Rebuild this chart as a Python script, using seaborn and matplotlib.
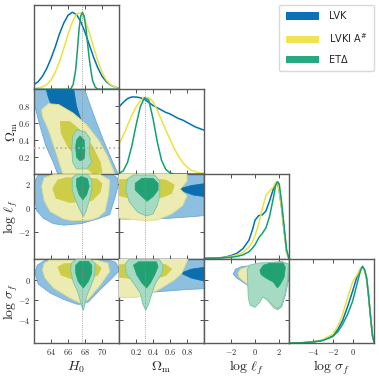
import matplotlib
matplotlib.use('Agg')
from matplotlib import pyplot as plt
from matplotlib.patches import Patch
from matplotlib.ticker import FixedLocator, FuncFormatter
import seaborn as sns

sns.set_style('ticks')
plt.rcParams['font.family'] = ['DejaVu Sans']
plt.rcParams['mathtext.fontset'] = 'cm'

# ---------------------------------------------------------------- axes setup
names = ['H0', 'Om', 'll', 'ls']
axis_labels = [r'$H_0$', r'$\Omega_\mathrm{m}$', r'$\log\,\ell_f$', r'$\log\,\sigma_f$']
limits = [(62.0, 72.0), (0.0, 1.0), (-4.2, 2.8), (-6.4, 2.15)]
ticks = [[64, 66, 68, 70], [0.2, 0.4, 0.6, 0.8], [-2, 0, 2], [-4, -2, 0]]
truth = {'H0': 67.7, 'Om': 0.31}

datasets = ['LVK', r'LVKI A$^\#$', 'ET\u0394']

# ---------------------------------------------------------------- 1D marginals
h0_x = [62.0, 62.5, 63.0, 63.5, 64.0, 64.5, 65.0, 65.5, 66.0, 66.5, 67.0,
        67.5, 68.0, 68.5, 69.0, 69.5, 70.0, 70.5, 71.0, 71.5, 72.0]
h0_lvk = [0.06, 0.10, 0.17, 0.27, 0.40, 0.55, 0.72, 0.86, 0.96, 1.00, 0.97,
          0.88, 0.74, 0.58, 0.42, 0.28, 0.17, 0.10, 0.055, 0.03, 0.015]
h0_lvki = [0.01, 0.02, 0.03, 0.06, 0.12, 0.22, 0.36, 0.53, 0.71, 0.87, 0.98,
           0.99, 0.90, 0.74, 0.55, 0.37, 0.22, 0.12, 0.06, 0.03, 0.01]
h0_eta_x = [62.0, 66.3, 66.6, 66.9, 67.1, 67.3, 67.5, 67.7, 67.9, 68.1, 68.3,
            68.5, 68.7, 68.9, 69.2, 69.5, 72.0]
h0_eta = [0.0, 0.0, 0.06, 0.25, 0.50, 0.78, 0.95, 1.00, 0.95, 0.80, 0.60,
          0.40, 0.24, 0.11, 0.03, 0.0, 0.0]

om_x = [0.0, 0.05, 0.1, 0.15, 0.2, 0.25, 0.3, 0.35, 0.4, 0.45, 0.5,
        0.55, 0.6, 0.65, 0.7, 0.75, 0.8, 0.85, 0.9, 0.95, 1.0]
om_lvk = [0.87, 0.93, 0.98, 1.00, 1.00, 0.99, 0.97, 0.93, 0.89, 0.86, 0.83,
          0.80, 0.78, 0.75, 0.72, 0.70, 0.67, 0.64, 0.61, 0.59, 0.57]
om_lvki = [0.39, 0.50, 0.63, 0.76, 0.87, 0.95, 0.99, 0.99, 0.94, 0.83, 0.70,
           0.57, 0.45, 0.33, 0.23, 0.15, 0.09, 0.05, 0.03, 0.015, 0.01]
om_eta = [0.01, 0.04, 0.15, 0.36, 0.63, 0.87, 0.99, 0.96, 0.72, 0.42, 0.18,
          0.06, 0.015, 0.0, 0.0, 0.0, 0.0, 0.0, 0.0, 0.0, 0.0]

ll_x = [-4.2, -3.0, -2.5, -2.0, -1.5, -1.0, -0.5, -0.2, 0.0, 0.3, 0.6,
        0.9, 1.2, 1.5, 1.7, 1.85, 2.0, 2.2, 2.4, 2.6, 2.8]
ll_lvk = [0.005, 0.01, 0.02, 0.04, 0.07, 0.13, 0.24, 0.38, 0.50, 0.56, 0.57,
          0.62, 0.75, 0.90, 0.98, 1.00, 0.88, 0.65, 0.36, 0.09, 0.0]
ll_lvki = [0.005, 0.01, 0.015, 0.03, 0.05, 0.08, 0.15, 0.22, 0.30, 0.45, 0.65,
           0.82, 0.88, 0.93, 0.99, 1.00, 0.88, 0.65, 0.36, 0.09, 0.0]
ll_eta = [0.005, 0.01, 0.015, 0.02, 0.03, 0.05, 0.09, 0.14, 0.18, 0.27, 0.33,
          0.40, 0.55, 0.78, 0.95, 1.00, 0.97, 0.72, 0.42, 0.12, 0.0]

ls_x = [-6.4, -5.0, -4.0, -3.0, -2.0, -1.5, -1.0, -0.5, 0.0, 0.4, 0.8,
        1.0, 1.2, 1.4, 1.6, 1.8, 2.0, 2.15]
ls_lvk = [0.005, 0.01, 0.02, 0.04, 0.10, 0.18, 0.30, 0.48, 0.68, 0.85, 0.97,
          1.00, 0.95, 0.85, 0.62, 0.35, 0.10, 0.02]
ls_lvki = [0.005, 0.01, 0.02, 0.05, 0.12, 0.22, 0.38, 0.60, 0.80, 0.88, 0.97,
           1.00, 0.95, 0.85, 0.62, 0.35, 0.10, 0.02]
ls_eta = [0.005, 0.01, 0.02, 0.04, 0.09, 0.15, 0.25, 0.38, 0.55, 0.75, 0.95,
          1.00, 0.96, 0.86, 0.63, 0.35, 0.10, 0.02]

# ---------------------------------------------------------------- 2D credible regions (95%, 68%)
lvk_h0_om_95 = [(61.8, 1.05), (62.1, 0.80), (62.7, 0.57), (63.4, 0.33), (64.2, 0.155),
                (64.8, 0.0), (65.1, -0.05), (72.2, -0.05), (71.9, 0.0), (71.2, 0.155),
                (70.2, 0.39), (69.2, 0.65), (68.4, 0.87), (67.8, 1.05)]
lvk_h0_om_68 = [(63.3, 1.05), (63.7, 0.9), (64.3, 0.75), (65.2, 0.55), (66.3, 0.35),
                (67.4, 0.15), (69.0, 0.15), (68.3, 0.4), (67.6, 0.62), (67.0, 0.8),
                (66.6, 1.05)]
lvki_h0_om_95 = [(62.9, 0.76), (63.7, 0.83), (64.9, 0.82), (66.6, 0.72), (68.2, 0.58),
                 (69.6, 0.40), (70.7, 0.20), (71.5, 0.0), (71.7, -0.1), (65.8, -0.1),
                 (65.4, 0.0), (64.6, 0.25), (63.7, 0.52), (63.0, 0.68)]
lvki_h0_om_68 = [(65.1, 0.62), (66.2, 0.62), (67.4, 0.52), (68.8, 0.34), (69.8, 0.14),
                 (70.0, 0.02), (69.0, 0.0), (68.3, 0.06), (67.4, 0.16), (66.0, 0.32),
                 (65.2, 0.48)]
eta_h0_om_95 = [(67.0, 0.52), (68.0, 0.50), (68.6, 0.42), (68.5, 0.24), (68.8, 0.14),
                (68.2, 0.06), (67.0, 0.06), (66.55, 0.14), (66.45, 0.30), (66.55, 0.44)]
eta_h0_om_68 = [(67.4, 0.45), (67.9, 0.40), (68.0, 0.28), (67.9, 0.18), (67.4, 0.155),
                (67.0, 0.20), (66.9, 0.32), (67.0, 0.40)]

lvk_h0_ll_95 = [(62.1, 2.2), (62.5, 2.7), (63.5, 3.0), (70.5, 3.0), (71.8, 2.5),
                (71.9, 1.8), (71.5, 0.8), (70.9, -0.55), (69.5, -0.9), (67.5, -1.3),
                (65.5, -1.42), (64.3, -1.3), (63.1, -0.85), (62.3, -0.2), (62.1, 0.8)]
lvk_h0_ll_68 = [(64.3, 1.8), (65.0, 2.4), (69.3, 2.4), (69.8, 1.8), (69.0, 0.9), (65.5, 0.8)]
lvki_h0_ll_95 = [(62.9, 1.8), (63.2, 2.5), (64.3, 2.75), (69.8, 2.75), (70.9, 2.3),
                 (70.8, 1.2), (70.35, -0.3), (69.5, -0.8), (68.6, -1.0), (66.5, -1.05),
                 (65.45, -0.9), (63.9, -0.3), (63.2, 0.6)]
lvki_h0_ll_68 = [(64.2, 1.6), (64.8, 2.3), (65.8, 2.5), (69.4, 2.4), (70.0, 2.0),
                 (69.8, 1.3), (68.8, 0.6), (66.2, 0.45), (64.6, 0.8)]
eta_h0_ll_95 = [(66.5, 2.5), (67.0, 2.75), (68.3, 2.75), (68.8, 2.3), (68.8, 1.5),
                (68.5, 0.6), (68.1, -0.3), (67.8, -0.72), (67.5, -0.3), (66.9, 0.6),
                (66.5, 1.5)]
eta_h0_ll_68 = [(67.0, 2.4), (67.6, 2.6), (68.3, 2.4), (68.5, 1.8), (68.2, 1.1),
                (67.75, 0.66), (67.3, 1.1), (67.0, 1.8)]

lvk_om_ll_95 = [(-0.05, 2.9), (1.05, 2.9), (1.05, -0.6), (0.9, -0.7), (0.6, -0.85),
                (0.3, -0.95), (0.1, -0.93), (-0.05, -0.9)]
lvk_om_ll_68 = [(0.2, 1.0), (0.2, 2.0), (0.6, 1.7), (0.72, 1.6), (0.85, 1.85),
                (1.05, 2.05), (1.05, 0.9), (0.88, 1.05), (0.72, 1.45), (0.5, 1.2)]
lvki_om_ll_95 = [(-0.05, 2.9), (0.8, 2.9), (0.8, 2.2), (0.72, 1.55), (0.8, 1.0),
                 (0.75, 0.2), (0.62, -0.5), (0.45, -1.0), (0.3, -1.05), (0.15, -0.95),
                 (-0.05, -0.8)]
lvki_om_ll_68 = [(-0.05, 2.3), (0.3, 2.45), (0.55, 2.3), (0.65, 1.9), (0.62, 1.2),
                 (0.5, 0.85), (0.3, 0.75), (0.1, 0.85), (-0.05, 1.1)]
eta_om_ll_95 = [(0.1, 2.4), (0.17, 2.72), (0.42, 2.72), (0.48, 2.2), (0.48, 1.0),
                (0.45, 0.2), (0.4, -0.5), (0.32, -0.66), (0.22, -0.35), (0.12, 0.5),
                (0.08, 1.5)]
eta_om_ll_68 = [(0.19, 2.03), (0.27, 2.45), (0.40, 2.45), (0.46, 2.03), (0.46, 1.48),
                (0.40, 0.93), (0.33, 0.55), (0.27, 0.93), (0.19, 1.48)]

lvk_h0_ls_95 = [(62.1, 0.8), (62.4, 1.5), (63.2, 1.95), (64.5, 2.06), (70.5, 2.06),
                (71.6, 1.8), (72.1, 1.0), (71.2, 0.2), (69.8, -0.95), (68.4, -2.2),
                (67.4, -2.45), (67.0, -2.42), (65.5, -1.95), (63.9, -1.3), (62.5, -0.4)]
lvk_h0_ls_68 = [(64.8, 1.2), (65.5, 1.8), (69.5, 1.8), (70.2, 1.2), (69.0, 0.0), (66.0, 0.0)]
lvki_h0_ls_95 = [(63.0, 1.0), (63.2, 1.7), (63.8, 2.0), (69.4, 2.0), (70.7, 1.7),
                 (70.9, 0.85), (69.8, -0.5), (68.3, -2.0), (67.4, -2.3), (66.2, -1.8),
                 (64.3, -0.8), (63.3, 0.2)]
lvki_h0_ls_68 = [(64.8, 1.3), (65.5, 1.65), (69.3, 1.65), (69.9, 1.2), (69.5, 0.5),
                 (68.5, 0.1), (66.5, 0.1), (65.2, 0.5)]
eta_h0_ls_95 = [(66.3, 1.0), (66.4, 1.7), (67.0, 2.1), (68.6, 2.1), (69.2, 1.7),
                (69.05, 0.2), (68.6, -0.8), (68.2, -1.6), (67.95, -2.6), (67.8, -3.05),
                (67.6, -2.6), (67.2, -1.3), (66.6, -0.15)]
eta_h0_ls_68 = [(66.9, 1.5), (67.4, 1.9), (68.4, 1.9), (68.8, 1.5), (68.8, 0.7),
                (68.4, -0.15), (67.8, -0.8), (67.2, -0.15), (66.9, 0.7)]

lvk_om_ls_95 = [(-0.05, 2.25), (1.05, 2.25), (1.05, -0.85), (0.8, -0.95), (0.5, -1.15),
                (0.2, -1.35), (-0.05, -1.45)]
lvk_om_ls_68 = [(0.1, 0.3), (0.1, 1.5), (0.5, 1.5), (0.74, 0.75), (0.85, 1.1),
                (1.05, 1.35), (1.05, -0.2), (0.85, 0.2), (0.74, 0.65), (0.6, 0.3)]
lvki_om_ls_95 = [(-0.05, 2.25), (0.82, 2.25), (0.78, 1.5), (0.74, 0.7), (0.65, 0.0),
                 (0.5, -0.8), (0.35, -1.5), (0.2, -1.75), (0.05, -1.75), (-0.05, -1.7)]
lvki_om_ls_68 = [(-0.05, 1.5), (0.3, 1.7), (0.55, 1.55), (0.62, 1.1), (0.55, 0.45),
                 (0.4, 0.1), (0.2, 0.1), (-0.05, 0.35)]
eta_om_ls_95 = [(0.07, 1.6), (0.12, 2.1), (0.47, 2.1), (0.52, 1.5), (0.5, 0.6),
                (0.43, -0.3), (0.39, -1.3), (0.35, -2.4), (0.315, -3.05), (0.28, -2.4),
                (0.25, -1.3), (0.17, -0.3), (0.09, 0.6)]
eta_om_ls_68 = [(0.17, 1.5), (0.23, 1.84), (0.44, 1.84), (0.46, 1.35), (0.42, 0.52),
                (0.37, -0.3), (0.325, -0.8), (0.27, -0.3), (0.21, 0.5)]

lvk_ll_ls_95 = [(-1.8, 0.6), (-1.6, 1.1), (-1.1, 1.35), (0.0, 1.5), (2.2, 1.85),
                (2.8, 1.6), (2.75, 0.0), (2.5, -1.5), (2.2, -2.7), (1.85, -3.0),
                (1.5, -2.75), (1.0, -2.0), (0.3, -1.3), (-0.4, -0.7), (-1.0, -0.2),
                (-1.5, 0.2)]
lvk_ll_ls_68 = [(0.6, 1.0), (1.0, 1.5), (2.2, 1.6), (2.4, 1.2), (2.2, 0.2), (1.5, 0.0), (0.8, 0.4)]
lvki_ll_ls_95 = [(-1.4, 0.7), (-1.2, 1.1), (-0.7, 1.3), (0.2, 1.5), (2.2, 1.8),
                 (2.75, 1.6), (2.7, 0.0), (2.45, -1.5), (2.15, -2.65), (1.8, -2.95),
                 (1.5, -2.7), (1.0, -2.0), (0.3, -1.3), (-0.4, -0.6), (-1.0, -0.05),
                 (-1.3, 0.3)]
lvki_ll_ls_68 = [(0.6, 1.0), (1.0, 1.5), (2.2, 1.6), (2.4, 1.2), (2.2, 0.2), (1.5, 0.0), (0.8, 0.4)]
eta_ll_ls_95 = [(-0.65, 1.0), (-0.45, 1.5), (0.3, 1.72), (2.2, 1.85), (2.75, 1.6),
                (2.7, 0.0), (2.45, -1.5), (2.15, -2.6), (1.8, -2.9), (1.5, -2.6),
                (1.05, -2.0), (0.65, -1.7), (0.35, -2.3), (0.0, -2.75), (-0.4, -2.55),
                (-0.55, -1.8), (-0.6, -0.3)]
eta_ll_ls_68 = [(0.4, 1.0), (0.7, 1.5), (1.2, 1.7), (2.3, 1.72), (2.5, 1.3), (2.4, 0.3),
                (2.1, -0.4), (1.85, -0.8), (1.5, -0.2), (0.9, 0.2), (0.5, 0.55)]

# ---------------------------------------------------------------- styling
line_colors = ['#0072B2', '#EDE13E', '#12A072']
legend_colors = ['#0A72B5', '#EFE455', '#27AA82']
fill_light = ['#8DBFE0', '#EBEBB2', '#A6DAC3']
fill_dark = ['#0B6FAE', '#CDCD48', '#22A272']
edge_light = ['#6CA9D8', '#DEDE8C', '#74C6A2']

marginals = {
    'H0': [(h0_x, h0_lvk), (h0_x, h0_lvki), (h0_eta_x, h0_eta)],
    'Om': [(om_x, om_lvk), (om_x, om_lvki), (om_x, om_eta)],
    'll': [(ll_x, ll_lvk), (ll_x, ll_lvki), (ll_x, ll_eta)],
    'ls': [(ls_x, ls_lvk), (ls_x, ls_lvki), (ls_x, ls_eta)],
}
regions = {
    ('H0', 'Om'): [(lvk_h0_om_95, lvk_h0_om_68), (lvki_h0_om_95, lvki_h0_om_68), (eta_h0_om_95, eta_h0_om_68)],
    ('H0', 'll'): [(lvk_h0_ll_95, lvk_h0_ll_68), (lvki_h0_ll_95, lvki_h0_ll_68), (eta_h0_ll_95, eta_h0_ll_68)],
    ('Om', 'll'): [(lvk_om_ll_95, lvk_om_ll_68), (lvki_om_ll_95, lvki_om_ll_68), (eta_om_ll_95, eta_om_ll_68)],
    ('H0', 'ls'): [(lvk_h0_ls_95, lvk_h0_ls_68), (lvki_h0_ls_95, lvki_h0_ls_68), (eta_h0_ls_95, eta_h0_ls_68)],
    ('Om', 'ls'): [(lvk_om_ls_95, lvk_om_ls_68), (lvki_om_ls_95, lvki_om_ls_68), (eta_om_ls_95, eta_om_ls_68)],
    ('ll', 'ls'): [(lvk_ll_ls_95, lvk_ll_ls_68), (lvki_ll_ls_95, lvki_ll_ls_68), (eta_ll_ls_95, eta_ll_ls_68)],
}

tick_fmt = FuncFormatter(lambda v, p: '$%g$' % v)

fig, axes = plt.subplots(4, 4, figsize=(3.79, 3.79), dpi=100)
fig.subplots_adjust(left=0.0897, right=0.9868, top=0.988, bottom=0.0937,
                    wspace=0, hspace=0)

for i in range(4):
    for j in range(4):
        ax = axes[i, j]
        if j > i:
            ax.set_visible(False)
            continue
        px = names[j]
        ax.set_xlim(*limits[j])
        if i == j:
            for k, (xs, ys) in enumerate(marginals[px]):
                sns.lineplot(x=xs, y=ys, ax=ax, color=line_colors[k], lw=1.1,
                             estimator=None, legend=False)
            ax.set_ylim(0, 1.1)
            ax.set_yticks([])
        else:
            py = names[i]
            ax.set_ylim(*limits[i])
            for k, (r95, r68) in enumerate(regions[(px, py)]):
                xs, ys = zip(*r95)
                ax.fill(xs, ys, facecolor=fill_light[k], edgecolor=edge_light[k],
                        lw=0.6, joinstyle='round', zorder=2 + 2 * k)
                xs, ys = zip(*r68)
                ax.fill(xs, ys, facecolor=fill_dark[k], edgecolor=fill_dark[k],
                        lw=0.5, joinstyle='round', zorder=3 + 2 * k)
            ax.yaxis.set_major_locator(FixedLocator(ticks[i]))
            ax.yaxis.set_major_formatter(tick_fmt)
            if py in truth:
                ax.axhline(truth[py], color='#b0b0b0', lw=1.2, ls=':', zorder=10)
        if px in truth:
            ax.axvline(truth[px], color='#8a8a8a', lw=0.6, ls=':', zorder=10)
        ax.xaxis.set_major_locator(FixedLocator(ticks[j]))
        ax.xaxis.set_major_formatter(tick_fmt)
        ax.tick_params(direction='in', top=True, right=(i != j), left=(i != j),
                       length=3, width=0.6, color='#333333', labelsize=6, pad=2.5)
        ax.tick_params(labelbottom=(i == 3), labelleft=(j == 0 and i > 0))
        for sp in ax.spines.values():
            sp.set_color('#5a5a5a')
            sp.set_linewidth(1.0)
        if i == 3:
            ax.set_xlabel(axis_labels[j], fontsize=10)
            ax.xaxis.set_label_coords(0.5, -0.185)
        if j == 0 and i > 0:
            ax.set_ylabel(axis_labels[i], fontsize=10)
            ax.yaxis.set_label_coords(-0.17, 0.5)

handles = [Patch(facecolor=c, edgecolor='none') for c in legend_colors]
leg = fig.legend(handles, datasets, loc='upper right', bbox_to_anchor=(0.9868, 0.988),
                 borderaxespad=0, fontsize=7, handlelength=3.4, handleheight=0.75,
                 labelspacing=1.0, handletextpad=1.0, borderpad=0.7,
                 frameon=True, fancybox=True, edgecolor='#d0d0d0')
for t in leg.get_texts():
    t.set_math_fontfamily('dejavusans')

fig.savefig('out.png', dpi=100)
